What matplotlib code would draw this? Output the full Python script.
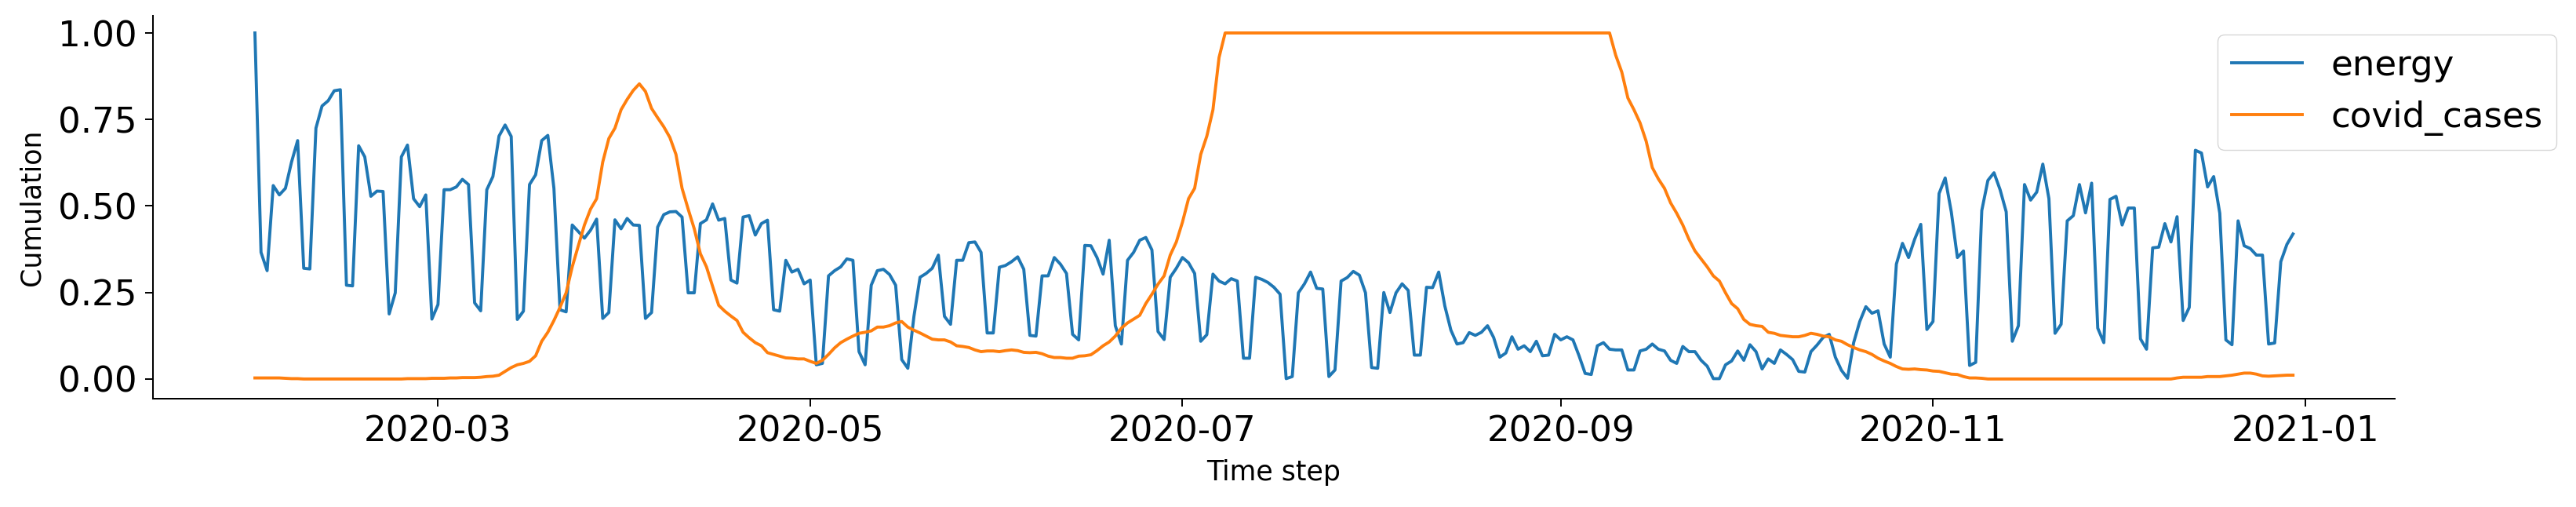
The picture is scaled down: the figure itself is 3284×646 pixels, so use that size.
import matplotlib
matplotlib.use("Agg")
import matplotlib.pyplot as plt
import matplotlib.dates as mdates
import pandas as pd

start_date = "2020-01-31"
series_names = ["energy", "covid_cases"]
x_label = "Time step"
y_label = "Cumulation"

energy = [
    1.000, 0.366, 0.313, 0.559, 0.532, 0.551, 0.627, 0.689, 0.320, 0.318,
    0.725, 0.789, 0.804, 0.833, 0.836, 0.271, 0.269, 0.674, 0.642, 0.528,
    0.543, 0.542, 0.188, 0.249, 0.642, 0.676, 0.521, 0.498, 0.532, 0.173,
    0.215, 0.547, 0.547, 0.555, 0.577, 0.562, 0.220, 0.197, 0.547, 0.585,
    0.702, 0.734, 0.701, 0.172, 0.196, 0.562, 0.590, 0.689, 0.704, 0.551,
    0.200, 0.194, 0.445, 0.426, 0.407, 0.430, 0.462, 0.175, 0.192, 0.460,
    0.434, 0.464, 0.445, 0.444, 0.175, 0.192, 0.439, 0.475, 0.483, 0.484,
    0.468, 0.249, 0.249, 0.449, 0.460, 0.506, 0.459, 0.464, 0.286, 0.277,
    0.468, 0.472, 0.416, 0.449, 0.459, 0.200, 0.196, 0.343, 0.309, 0.317,
    0.275, 0.286, 0.041, 0.045, 0.298, 0.313, 0.324, 0.347, 0.343, 0.079,
    0.041, 0.271, 0.313, 0.317, 0.302, 0.271, 0.056, 0.031, 0.181, 0.294,
    0.305, 0.320, 0.358, 0.181, 0.158, 0.343, 0.343, 0.394, 0.396, 0.366,
    0.133, 0.133, 0.323, 0.328, 0.339, 0.353, 0.317, 0.126, 0.124, 0.298,
    0.298, 0.351, 0.332, 0.305, 0.129, 0.113, 0.386, 0.385, 0.351, 0.303,
    0.401, 0.154, 0.101, 0.343, 0.366, 0.401, 0.409, 0.373, 0.137, 0.114,
    0.294, 0.320, 0.351, 0.336, 0.305, 0.109, 0.128, 0.303, 0.283, 0.275,
    0.290, 0.283, 0.060, 0.060, 0.294, 0.288, 0.279, 0.265, 0.245, 0.001,
    0.007, 0.249, 0.275, 0.309, 0.262, 0.260, 0.007, 0.026, 0.283, 0.293,
    0.311, 0.300, 0.249, 0.033, 0.031, 0.250, 0.192, 0.249, 0.275, 0.256,
    0.069, 0.069, 0.265, 0.264, 0.309, 0.211, 0.141, 0.101, 0.105, 0.134,
    0.126, 0.135, 0.154, 0.120, 0.063, 0.075, 0.122, 0.086, 0.096, 0.079,
    0.109, 0.067, 0.069, 0.129, 0.113, 0.122, 0.113, 0.067, 0.016, 0.013,
    0.096, 0.105, 0.086, 0.084, 0.084, 0.026, 0.026, 0.081, 0.086, 0.101,
    0.086, 0.081, 0.054, 0.045, 0.094, 0.079, 0.079, 0.054, 0.037, 0.001,
    0.001, 0.041, 0.052, 0.081, 0.054, 0.099, 0.079, 0.029, 0.058, 0.045,
    0.084, 0.071, 0.056, 0.022, 0.020, 0.079, 0.098, 0.120, 0.129, 0.063,
    0.025, 0.002, 0.105, 0.166, 0.209, 0.190, 0.197, 0.101, 0.063, 0.332,
    0.392, 0.351, 0.404, 0.447, 0.143, 0.166, 0.536, 0.581, 0.483, 0.351,
    0.370, 0.039, 0.048, 0.487, 0.574, 0.596, 0.547, 0.483, 0.109, 0.154,
    0.562, 0.517, 0.540, 0.621, 0.521, 0.132, 0.158, 0.457, 0.472, 0.562,
    0.480, 0.566, 0.147, 0.105, 0.519, 0.528, 0.445, 0.494, 0.494, 0.116,
    0.086, 0.379, 0.381, 0.449, 0.396, 0.469, 0.169, 0.207, 0.661, 0.653,
    0.555, 0.585, 0.479, 0.113, 0.099, 0.457, 0.385, 0.377, 0.358, 0.358,
    0.101, 0.104, 0.339, 0.389, 0.419,
]

covid_cases = [
    0.003, 0.003, 0.003, 0.003, 0.003, 0.002, 0.001, 0.001, 0.000, 0.000,
    0.000, 0.000, 0.000, 0.000, 0.000, 0.000, 0.000, 0.000, 0.000, 0.000,
    0.000, 0.000, 0.000, 0.000, 0.000, 0.001, 0.001, 0.001, 0.001, 0.002,
    0.002, 0.002, 0.003, 0.003, 0.004, 0.004, 0.004, 0.005, 0.007, 0.008,
    0.011, 0.022, 0.033, 0.041, 0.045, 0.051, 0.067, 0.109, 0.135, 0.169,
    0.207, 0.249, 0.324, 0.385, 0.445, 0.491, 0.521, 0.627, 0.695, 0.725,
    0.778, 0.808, 0.834, 0.853, 0.831, 0.782, 0.755, 0.729, 0.698, 0.649,
    0.551, 0.491, 0.434, 0.362, 0.324, 0.268, 0.213, 0.196, 0.182, 0.169,
    0.135, 0.119, 0.105, 0.096, 0.076, 0.071, 0.066, 0.061, 0.060, 0.058,
    0.058, 0.051, 0.045, 0.054, 0.071, 0.090, 0.105, 0.115, 0.124, 0.132,
    0.135, 0.139, 0.150, 0.150, 0.154, 0.162, 0.166, 0.150, 0.141, 0.133,
    0.124, 0.115, 0.113, 0.113, 0.107, 0.096, 0.094, 0.091, 0.084, 0.079,
    0.081, 0.081, 0.079, 0.082, 0.084, 0.082, 0.077, 0.076, 0.077, 0.073,
    0.066, 0.062, 0.062, 0.060, 0.060, 0.066, 0.067, 0.070, 0.082, 0.096,
    0.107, 0.124, 0.147, 0.162, 0.173, 0.184, 0.218, 0.245, 0.274, 0.298,
    0.358, 0.396, 0.453, 0.521, 0.551, 0.649, 0.702, 0.778, 0.929, 1.000,
    1.000, 1.000, 1.000, 1.000, 1.000, 1.000, 1.000, 1.000, 1.000, 1.000,
    1.000, 1.000, 1.000, 1.000, 1.000, 1.000, 1.000, 1.000, 1.000, 1.000,
    1.000, 1.000, 1.000, 1.000, 1.000, 1.000, 1.000, 1.000, 1.000, 1.000,
    1.000, 1.000, 1.000, 1.000, 1.000, 1.000, 1.000, 1.000, 1.000, 1.000,
    1.000, 1.000, 1.000, 1.000, 1.000, 1.000, 1.000, 1.000, 1.000, 1.000,
    1.000, 1.000, 1.000, 1.000, 1.000, 1.000, 1.000, 1.000, 1.000, 1.000,
    1.000, 1.000, 1.000, 0.936, 0.887, 0.812, 0.778, 0.740, 0.687, 0.611,
    0.578, 0.551, 0.509, 0.479, 0.445, 0.404, 0.370, 0.347, 0.324, 0.298,
    0.283, 0.249, 0.218, 0.203, 0.172, 0.158, 0.154, 0.152, 0.135, 0.132,
    0.126, 0.124, 0.122, 0.122, 0.126, 0.132, 0.129, 0.124, 0.122, 0.113,
    0.109, 0.099, 0.091, 0.084, 0.079, 0.071, 0.060, 0.052, 0.045, 0.036,
    0.029, 0.028, 0.029, 0.027, 0.026, 0.023, 0.022, 0.018, 0.014, 0.013,
    0.007, 0.003, 0.003, 0.002, 0.000, 0.000, 0.000, 0.000, 0.000, 0.000,
    0.000, 0.000, 0.000, 0.000, 0.000, 0.000, 0.000, 0.000, 0.000, 0.000,
    0.000, 0.000, 0.000, 0.000, 0.000, 0.000, 0.000, 0.000, 0.000, 0.000,
    0.000, 0.000, 0.000, 0.000, 0.000, 0.003, 0.005, 0.005, 0.005, 0.005,
    0.007, 0.007, 0.007, 0.009, 0.011, 0.014, 0.017, 0.017, 0.014, 0.009,
    0.008, 0.009, 0.010, 0.011, 0.011,
]

dates = pd.date_range(start_date, periods=len(energy), freq="D")

fig = plt.figure(figsize=(32.84, 6.46), dpi=100)
ax = fig.add_axes([0.0594, 0.2136, 0.8703, 0.7555])

ax.plot(dates, energy, color="#1f77b4", lw=2.8, label=series_names[0])
ax.plot(dates, covid_cases, color="#ff7f0e", lw=2.8, label=series_names[1])

ax.set_ylim(-0.057, 1.05)
ax.set_yticks([0.0, 0.25, 0.5, 0.75, 1.0])
ax.yaxis.set_major_formatter(matplotlib.ticker.FormatStrFormatter("%.2f"))
ax.xaxis.set_major_locator(mdates.MonthLocator(bymonth=[1, 3, 5, 7, 9, 11]))
ax.xaxis.set_major_formatter(mdates.DateFormatter("%Y-%m"))

for s in ["top", "right"]:
    ax.spines[s].set_visible(False)
for s in ["left", "bottom"]:
    ax.spines[s].set_linewidth(1.45)

ax.tick_params(axis="both", labelsize=32.5, length=7.5, width=1.4, pad=7)
ax.set_xlabel(x_label, fontsize=25, labelpad=10)
ax.set_ylabel(y_label, fontsize=25, labelpad=12)

leg = ax.legend(loc="upper right", bbox_to_anchor=(1.0722, 0.951),
                borderaxespad=0, fontsize=32.5)

fig.savefig("out.png", dpi=100)
